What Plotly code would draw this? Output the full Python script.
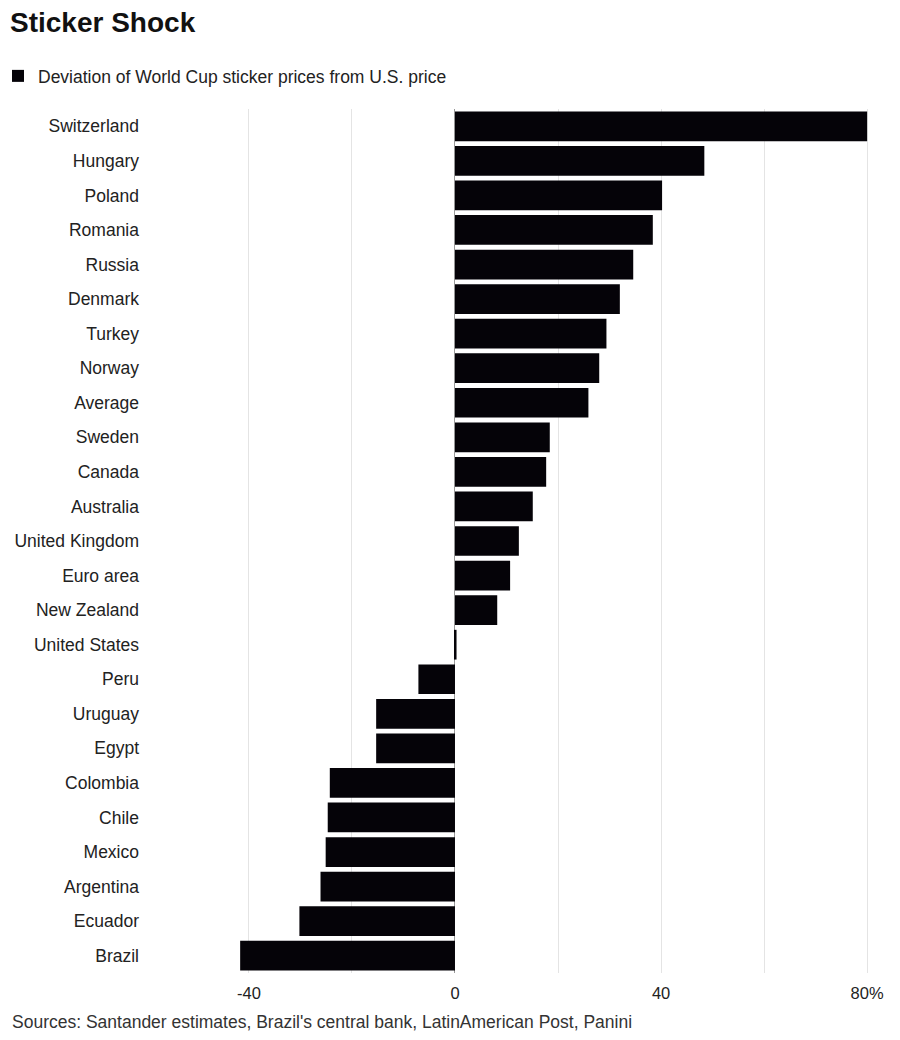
import plotly.graph_objects as go

countries = ["Switzerland", "Hungary", "Poland", "Romania", "Russia", "Denmark", "Turkey",
             "Norway", "Average", "Sweden", "Canada", "Australia", "United Kingdom",
             "Euro area", "New Zealand", "United States", "Peru", "Uruguay", "Egypt",
             "Colombia", "Chile", "Mexico", "Argentina", "Ecuador", "Brazil"]
deviation = [80.0, 48.4, 40.2, 38.4, 34.6, 32.0, 29.4, 28.0, 25.9, 18.4, 17.7, 15.1, 12.4,
             10.7, 8.2, 0.3, -7.1, -15.3, -15.3, -24.3, -24.7, -25.1, -26.1, -30.2, -41.7]
tick_vals = [-40, -20, 0, 20, 40, 60, 80]
tick_text = ["-40", "", "0", "", "40", "", "80%"]

FONT = "Liberation Sans"

fig = go.Figure()
fig.add_trace(go.Bar(
    x=deviation, y=countries, orientation="h",
    marker=dict(color="#050308", line=dict(width=0)),
    name="Deviation of World Cup sticker prices from U.S. price",
    showlegend=True,
))

# page has an 8px body margin; figure coordinates below are page coords minus 8
W, H = 884, 1024
L, R, T, B = 142, 12, 100.5, 58.9
PW, PH = W - L - R, H - T - B

fig.update_layout(
    width=W, height=H,
    margin=dict(l=L, r=R, t=T, b=B, autoexpand=False),
    paper_bgcolor="white", plot_bgcolor="white",
    bargap=0.14,
    font=dict(family=FONT, color="#222222", size=17.5),
    title=dict(text="<b>Sticker Shock</b>", x=2 / W, xref="container", xanchor="left",
               y=1 - 14 / H, yref="container", yanchor="middle",
               font=dict(family=FONT, size=28, color="#111111")),
    legend=dict(x=(-10 - L) / PW, xref="paper", xanchor="left", y=1 - 50 / H, yref="container",
                yanchor="top", orientation="h", font=dict(size=17.5, color="#222222"),
                bgcolor="rgba(0,0,0,0)", itemclick=False),
    xaxis=dict(range=[-59.2, 82.5], tickvals=tick_vals, ticktext=tick_text,
               showgrid=True, gridcolor="#e4e4e4", gridwidth=1,
               zeroline=True, zerolinecolor="#999999", zerolinewidth=1,
               showline=False, ticks="", tickfont=dict(size=16.5, color="#222222"),
               ticklabelstandoff=8, fixedrange=True),
    yaxis=dict(autorange="reversed", showgrid=False, zeroline=False, showline=False,
               ticks="", tickfont=dict(size=17.5, color="#222222"),
               ticklabelstandoff=10, fixedrange=True),
    annotations=[dict(
        text="Sources: Santander estimates, Brazil's central bank, LatinAmerican Post, Panini",
        xref="paper", yref="paper", x=(2 - L) / PW, y=(H - B - 1014) / PH,
        xanchor="left", yanchor="middle", showarrow=False,
        font=dict(family=FONT, size=17.5, color="#333333"))],
)

fig.write_html("out.html")
